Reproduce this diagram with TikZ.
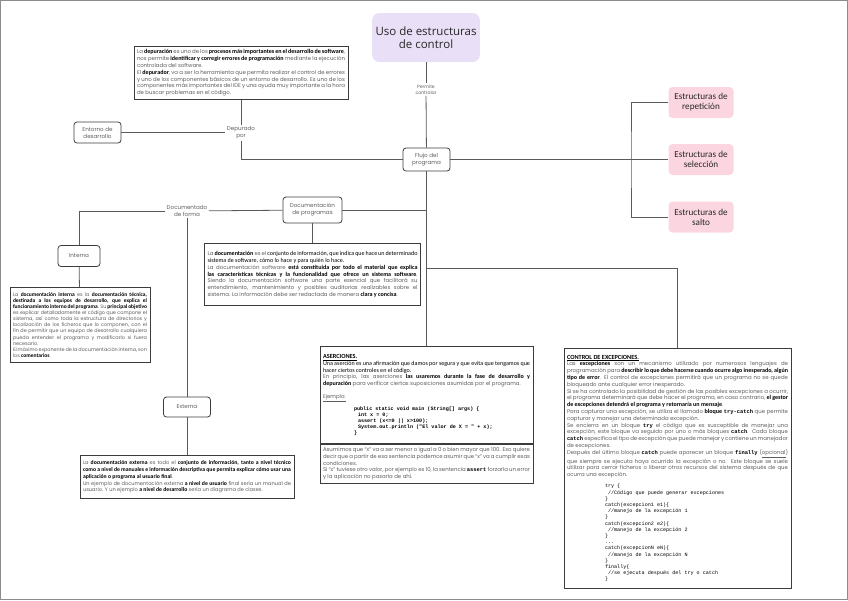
\documentclass[tikz,border=0pt]{standalone}
\usepackage{fontspec}
\setmainfont{Poppins}
\newfontfamily\calib{Carlito}[Scale=1.12]
\newfontfamily\titlefont{Open Sans}
\setmonofont{Liberation Mono}
\usetikzlibrary{positioning}
\setlength{\parindent}{0pt}
\hyphenpenalty=10000
\exhyphenpenalty=10000

\definecolor{lineg}{HTML}{5A5A5A}
\definecolor{boxg}{HTML}{3C3C3C}
\definecolor{txtg}{HTML}{5E5E5E}
\definecolor{lila}{HTML}{E9DFF7}
\definecolor{rosa}{HTML}{FBD6E0}

\newcommand\hl[1]{{\calib\bfseries\color{black}#1}}
\newcommand\dk[1]{{\calib\color{black}#1}}
\newcommand\kw[1]{{\ttfamily\bfseries\color{black}#1}}

\tikzset{
    link/.style={draw=lineg,line width=0.8pt},
    tag/.style={font=\fontsize{5.6}{7}\selectfont,text=txtg,align=center,inner sep=1.5pt},
    topic/.style={draw=boxg,rounded corners=3pt,line width=0.8pt,fill=white,align=center,
        font=\fontsize{5.6}{7}\selectfont,text=txtg,inner sep=1pt},
    titlebox/.style={fill=lila,rounded corners=7pt,minimum width=105pt,minimum height=49pt,
        align=center,font=\titlefont\fontsize{11.5}{13.5}\selectfont,text=black!85},
    pinkbox/.style={fill=rosa,rounded corners=4pt,minimum width=65pt,minimum height=31pt,
        align=center,font=\calib\fontsize{8.2}{10}\selectfont,text=black!85},
    textbox/.style={draw=boxg,line width=0.9pt,fill=white,inner sep=3pt,align=justify,
        font=\fontsize{5.4}{6.8}\selectfont,text=txtg},
}

\begin{document}
\begin{tikzpicture}[x=1pt,y=-1pt]
    \useasboundingbox (0,0) rectangle (848,600);
    \draw[black!45,line width=0.6pt] (0.5,0.5) rectangle (847.5,599.5);

    \node[titlebox] (uso) at (426,37.5) {Uso de estructuras\\de control};
    \node[tag,font=\fontsize{4.6}{6}\selectfont] (permite) at (426,89.5) {Permite\\controlar};
    \node[topic,minimum width=47pt,minimum height=23pt] (flujo) at (426.5,159.5) {Flujo del\\programa};

    \foreach \nm/\y/\txt in {rep/102.5/repetición,sel/159.5/selección,salto/217/salto}
        \node[pinkbox] (\nm) at (701,\y) {Estructuras de\\\txt};
    \coordinate (rama) at (631,159.5);

    \node[textbox,text width=208pt,minimum height=53pt,anchor=north] (depuracion) at (241,46) {%
        La \hl{depuración} es uno de los \hl{procesos más importantes en el desarrollo de software}, nos
        permite \hl{identificar y corregir errores de programación} mediante la ejecución controlada
        del software.\par
        El \hl{depurador}, va a ser la herramienta que permita realizar el control de errores y uno
        de los componentes básicos de un entorno de desarrollo. Es uno de los componentes
        más importantes del IDE y una ayuda muy importante a la hora de buscar problemas
        en el código.};
    \node[tag] (depurado) at (241,132.5) {Depurado\\por};
    \node[topic,minimum width=47pt,minimum height=21pt] (entorno) at (97.5,132.5) {Entorno de\\desarrollo};

    \node[topic,minimum width=59pt,minimum height=26pt] (docprog) at (312.5,210) {Documentación\\de programas};
    \node[tag] (docforma) at (187,211) {Documentado\\de forma};
    \coordinate (cruce) at (426.5,210);
    \node[textbox,text width=210pt,minimum height=62pt,anchor=north] (docbox) at (312.5,243) {%
        La \hl{documentación} es el \dk{conjunto de información, que indica que hace un determinado
        sistema de software, cómo lo hace y para quién lo hace.}\par
        La documentación software \hl{está constituida por todo el material que explica las
        características técnicas y la funcionalidad que ofrece un sistema software}. Siendo la
        documentación software una parte esencial que facilitará su entendimiento,
        mantenimiento y posibles auditorias realizables sobre el sistema. La información debe
        ser redactada de manera \hl{clara y concisa}.};

    \node[topic,minimum width=42pt,minimum height=21pt] (interna) at (79,256) {Interna};
    \node[textbox,text width=134pt,minimum height=75pt,anchor=north,
        font=\fontsize{4.9}{6.1}\selectfont] (intbox) at (80,287) {%
        La \hl{documentación interna} es la \hl{documentación técnica, destinada a los equipos de
        desarrollo, que explica el funcionamiento interno del programa}. Su \hl{principal
        objetivo} es explicar detalladamente el código que compone el sistema, así como toda la
        estructura de directorios y localización de los ficheros que lo componen, con el fin de
        permitir que un equipo de desarrollo cualquiera pueda entender el programa y
        modificarlo si fuera necesario.\par
        El máximo exponente de la documentación interna, son los \hl{comentarios}.};

    \node[topic,minimum width=47pt,minimum height=20pt] (externa) at (187,407) {Externa};
    \node[textbox,text width=208pt,minimum height=43pt,anchor=north,
        font=\fontsize{5.1}{6.8}\selectfont] (extbox) at (187,455) {%
        La \hl{documentación externa} es todo el \hl{conjunto de información, tanto a nivel técnico
        como a nivel de manuales e información descriptiva que permita explicar cómo usar una
        aplicación o programa al usuario final}.\par
        Un ejemplo de documentación externa \hl{a nivel de usuario} final sería un manual de
        usuario. Y un ejemplo \hl{a nivel de desarrollo} sería un diagrama de clases.};

    \node[textbox,text width=207pt,minimum height=97pt,anchor=north] (aserc) at (426.5,346) {%
        {\calib\bfseries\fontsize{5.6}{7}\selectfont\color{black}\underline{ASERCIONES.}\par}
        \dk{Una aserción es una afirmación que damos por segura y que evita que tengamos que
        hacer ciertos controles en el código.}\par
        En principio, las aserciones \hl{las usaremos durante la fase de desarrollo y depuración}
        para verificar ciertas suposiciones asumidas por el programa.\par
        \vspace{6pt}
        \underline{Ejemplo:}\par
        \vspace{4pt}
        {\ttfamily\bfseries\color{black}\fontsize{5.1}{6}\selectfont
        \hspace*{31pt}public static void main (String[] args) \{\par
        \hspace*{35pt}int x = 0;\par
        \hspace*{35pt}assert (x<=0 || x>100);\par
        \hspace*{35pt}System.out.println ("El valor de X = " + x);\par
        \hspace*{31pt}\}\par}};
    \node[textbox,text width=207pt,minimum height=35pt,anchor=north] (asercnota) at (aserc.south) {%
        Asumimos que “x” va a ser menor o igual a 0 o bien mayor que 100. Eso quiere decir
        que a partir de esa sentencia podemos asumir que “x” va a cumplir esas condiciones.\par
        Si “x” tuviese otro valor, por ejemplo es 10, la sentencia \kw{assert} forzaría un error y la
        aplicación no pasaría de ahí.};

    \coordinate (ramaexc) at (426.5,268);
    \node[textbox,text width=221pt,minimum height=240pt,anchor=north] (excep) at (677.5,348) {%
        {\calib\bfseries\fontsize{5.6}{7}\selectfont\color{black}\underline{CONTROL DE EXCEPCIONES.}\par}
        Las \hl{excepciones} son un mecanismo utilizado por numerosos lenguajes de
        programación para \hl{describir lo que debe hacerse cuando ocurre algo inesperado, algún
        tipo de error}. El control de excepciones permitirá que un programa no se quede
        bloqueado ante cualquier error inesperado.\par
        Si se ha controlado la posibilidad de gestión de las posibles excepciones a ocurrir, el
        programa determinará que debe hacer el programa, en caso contrario, \hl{el gestor de
        excepciones detendrá el programa y retornaría un mensaje}.\par
        Para capturar una excepción, se utiliza el llamado \hl{bloque} \kw{try-catch} que permite
        capturar y manejar una determinada excepción.\par
        Se encierra en un bloque \kw{try} el código que es susceptible de manejar una excepción,
        este bloque va seguido por uno o más bloques \kw{catch}. Cada bloque \kw{catch} especifica
        el tipo de excepción que puede manejar y contiene un manejador de excepciones.\par
        Después del último bloque \kw{catch} puede aparecer un bloque \kw{finally} (\underline{opcional}) que
        siempre se ejecuta haya ocurrido la excepción o no. Este bloque se suele utilizar para
        cerrar ficheros o liberar otros recursos del sistema después de que ocurra una
        excepción.\par
        \vspace{5pt}
        {\ttfamily\color{black}\fontsize{5.1}{6.2}\selectfont
        \hspace*{38pt}try \{\par
        \hspace*{41pt}//Código que puede generar excepciones\par
        \hspace*{38pt}\}\par
        \hspace*{38pt}catch(excepcion1 e1)\{\par
        \hspace*{41pt}//manejo de la excepción 1\par
        \hspace*{38pt}\}\par
        \hspace*{38pt}catch(excepcion2 e2)\{\par
        \hspace*{41pt}//manejo de la excepción 2\par
        \hspace*{38pt}\}\par
        \hspace*{38pt}...\par
        \hspace*{38pt}catch(excepcionN eN)\{\par
        \hspace*{41pt}//manejo de la excepción N\par
        \hspace*{38pt}\}\par
        \hspace*{38pt}finally\{\par
        \hspace*{41pt}//se ejecuta después del try o catch\par
        \hspace*{38pt}\}\par}};

    \draw[link] (uso) -- (permite);
    \draw[link] (permite) -- (flujo);
    \draw[link] (flujo) -- (sel);
    \draw[link] (rep.west) -| (rama) |- (salto.west);
    \draw[link] (depuracion) -- (depurado);
    \draw[link] (entorno) -- (depurado);
    \draw[link] (depurado.south) |- (flujo.west);
    \draw[link] (docprog) -- (cruce);
    \draw[link] (docforma) -- (docprog);
    \draw[link] (docforma.west) -| (interna.north);
    \draw[link] (docforma) -- (externa);
    \draw[link] (docprog) -- (docbox);
    \draw[link] (interna) -- (intbox);
    \draw[link] (externa) -- (extbox);
    \draw[link] (flujo) -- (aserc);
    \draw[link] (ramaexc) -| (excep.north);
\end{tikzpicture}
\end{document}
